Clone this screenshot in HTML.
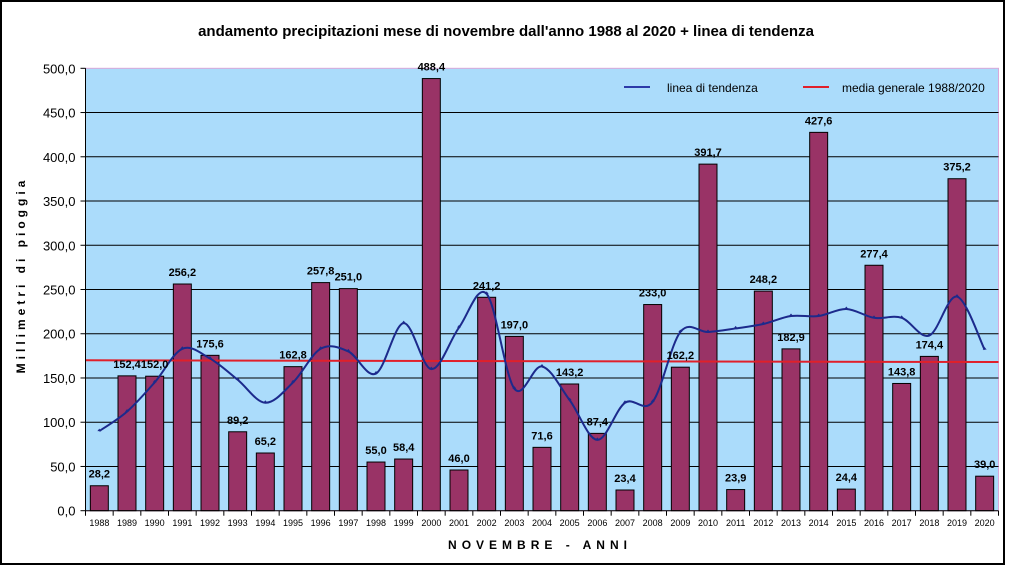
<!DOCTYPE html>
<html><head><meta charset="utf-8"><style>
body{margin:0;background:#fff;width:1013px;height:571px;overflow:hidden}
svg{display:block;font-family:"Liberation Sans",Arial,sans-serif}
</style></head><body>
<svg id="chart" width="1013" height="571" viewBox="0 0 1013 571">
<rect x="1" y="1" width="1003" height="563" fill="#fff" stroke="#000" stroke-width="2"/>
<text x="506" y="36" text-anchor="middle" font-size="15" font-weight="bold">andamento precipitazioni mese di novembre dall'anno 1988 al 2020 + linea di tendenza</text>
<rect x="85.5" y="68.3" width="913" height="442.4" fill="#abdcfb" stroke="#d9a8d9" stroke-width="1"/>
<g id="grid"></g><g id="bars"></g><g id="trend"></g><g id="labels"></g><g id="axes"></g>
<g>
<line x1="624" y1="87" x2="650" y2="87" stroke="#2d3aa8" stroke-width="2"/>
<text x="667" y="92" font-size="12">linea di tendenza</text>
<line x1="803" y1="87" x2="829" y2="87" stroke="#e0202a" stroke-width="2"/>
<text x="842" y="92" font-size="12">media generale 1988/2020</text>
</g>
<text x="540" y="549" text-anchor="middle" font-size="12" font-weight="bold" letter-spacing="5">NOVEMBRE - ANNI</text>
<text transform="translate(25,275) rotate(-90)" text-anchor="middle" font-size="12" font-weight="bold" letter-spacing="4">Millimetri di pioggia</text>
</svg>
<script>
const years=[1988,1989,1990,1991,1992,1993,1994,1995,1996,1997,1998,1999,2000,2001,2002,2003,2004,2005,2006,2007,2008,2009,2010,2011,2012,2013,2014,2015,2016,2017,2018,2019,2020];
const rain=[28.2,152.4,152.0,256.2,175.6,89.2,65.2,162.8,257.8,251.0,55.0,58.4,488.4,46.0,241.2,197.0,71.6,143.2,87.4,23.4,233.0,162.2,391.7,23.9,248.2,182.9,427.6,24.4,277.4,143.8,174.4,375.2,39.0];
const trend=[90,112,145,183,172,148,122,145,183,180,155,212,160,207,245,138,163,125,80,122,123,202,202,206,211,220,220,228,218,218,198,242,182];
const meanStart=170, meanEnd=168;
const yTicks=[0,50,100,150,200,250,300,350,400,450,500];
const NS='http://www.w3.org/2000/svg';
const X0=85.5,W=913,Y0=510.7,H=442.4,YMAX=500;
const cw=W/years.length;
const xc=i=>X0+cw*(i+0.5);
const y=v=>Y0-v/YMAX*H;
function mk(tag,attrs,parent){const e=document.createElementNS(NS,tag);for(const k in attrs)e.setAttribute(k,attrs[k]);document.getElementById(parent).appendChild(e);return e;}
const fmt=v=>v.toFixed(1).replace('.',',');
yTicks.forEach(t=>{
 if(t>0&&t<500){const g=mk('line',{x1:X0,x2:X0+W,y1:y(t),y2:y(t),stroke:'#000','stroke-width':1},'grid');
 
 }
 const tk=mk('line',{x1:X0-5,x2:X0,y1:y(t),y2:y(t),stroke:'#000'},'axes');
 
 
 const tl=mk('text',{x:X0-10,y:y(t)+5,'text-anchor':'end','font-size':13},'axes');
 
 
 tl.textContent=fmt(t);
});
const bw=cw*0.65;
rain.forEach((v,i)=>{
 const b=mk('rect',{x:xc(i)-bw/2,y:y(v),width:bw,height:Y0-y(v),fill:'#993366',stroke:'#000','stroke-width':1},'bars');
 
 
 const l=mk('text',{x:xc(i),y:y(v)-8,'text-anchor':'middle','font-size':11,'font-weight':'bold'},'labels');
 
 
 l.textContent=fmt(v);
 const xl=mk('text',{x:xc(i),y:526,'text-anchor':'middle','font-size':9},'axes');
 
 
 xl.textContent=years[i];
});
for(let i=0;i<=years.length;i++){const t=mk('line',{x1:X0+cw*i,x2:X0+cw*i,y1:Y0,y2:Y0+5,stroke:'#000'},'axes');
 
 }
const ax=mk('path',{d:`M${X0},${y(500)}V${Y0}H${X0+W}`,fill:'none',stroke:'#000','stroke-width':1},'axes');


const mean=mk('line',{x1:X0,x2:X0+W,y1:y(meanStart),y2:y(meanEnd),stroke:'#e0202a','stroke-width':2},'trend');


// smooth trend via Catmull-Rom
const pts=trend.map((v,i)=>[xc(i),y(v)]);
let d=`M${pts[0][0]},${pts[0][1]}`;
for(let i=0;i<pts.length-1;i++){const p0=pts[Math.max(0,i-1)],p1=pts[i],p2=pts[i+1],p3=pts[Math.min(pts.length-1,i+2)];
 d+=` C${p1[0]+(p2[0]-p0[0])/6},${p1[1]+(p2[1]-p0[1])/6} ${p2[0]-(p3[0]-p1[0])/6},${p2[1]-(p3[1]-p1[1])/6} ${p2[0]},${p2[1]}`;}
const tl=mk('path',{d:d,fill:'none',stroke:'#1c2a8c','stroke-width':2},'trend');


pts.forEach((p,i)=>{const m=mk('path',{d:`M${p[0]-2},${p[1]}L${p[0]},${p[1]-2.5}L${p[0]+2},${p[1]}Z`,fill:'#1c2a8c'},'trend');
 
 });
</script>
</body></html>
